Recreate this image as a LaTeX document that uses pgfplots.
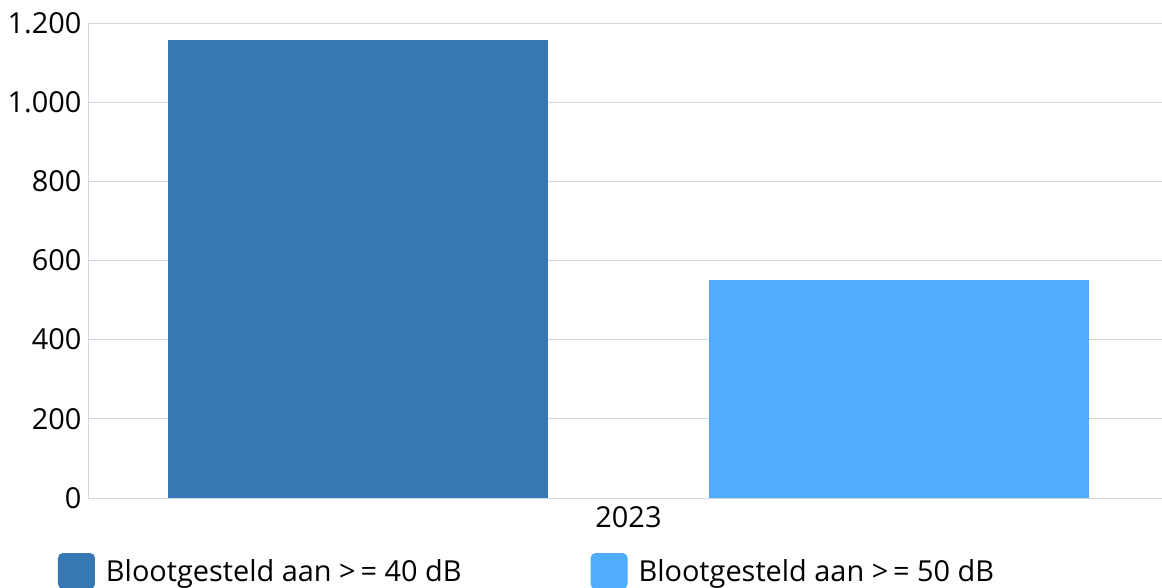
\documentclass[border=0pt]{standalone}
\usepackage{pgfplots}
\pgfplotsset{compat=1.18}
\usepackage{fontspec}
\setmainfont{Open Sans}
\definecolor{darkbar}{HTML}{3777B3}
\definecolor{lightbar}{HTML}{4FACFE}
\definecolor{gridcol}{HTML}{CFD8E2}
\begin{document}
\begin{tikzpicture}[x=1bp,y=1bp]
\useasboundingbox (-88bp,-90bp) rectangle (1074bp,498bp);
\begin{axis}[
  at={(0,0)}, anchor=south west,
  scale only axis,
  width=1074bp, height=475bp,
  ybar, bar width=380bp,
  xmin=-1, xmax=1,
  ymin=0, ymax=1200,
  ytick={0,200,...,1200},
  xtick={0.0065}, xticklabels={2023},
  axis lines*=left,
  x axis line style={draw=none},
  y axis line style={draw=gridcol, line width=0.8pt, -},
  major tick length=0pt,
  ymajorgrids,
  grid style={draw=gridcol, line width=0.8pt},
  /pgf/number format/assume math mode=true,
  /pgf/number format/1000 sep={.},
  yticklabel style={font=\fontsize{29}{32}\selectfont, text=black, xshift=-3bp},
  xticklabel style={font=\fontsize{29}{32}\selectfont, text=black, yshift=-5bp},
  legend columns=2,
  legend style={at={(0,0)}, anchor=north west, xshift=-30bp, yshift=-55bp,
    draw=none, fill=none, inner sep=0pt, outer sep=0pt,
    font=\fontsize{29}{32}\selectfont,
    /tikz/every even column/.append style={column sep=127bp}},
  legend image code/.code={\fill[#1, rounded corners=5bp] (0bp,-18bp) rectangle (37bp,18bp); \path (46bp,0bp);},
  clip=false,
]
\addplot[fill=darkbar, draw=none, bar shift=-267bp] coordinates {(0,1157)};
\addlegendentry{Blootgesteld aan >\,= 40 dB}
\addplot[fill=lightbar, draw=none, bar shift=274bp] coordinates {(0,550)};
\addlegendentry{Blootgesteld aan >\,= 50 dB}
\end{axis}
\end{tikzpicture}
\end{document}
